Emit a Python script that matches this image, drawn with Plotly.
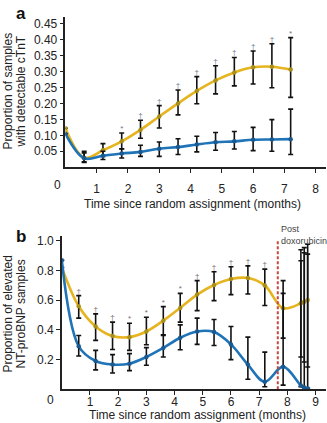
import plotly.graph_objects as go

# ---------------- Panel a data (cTnT) ----------------
months_a = [0, 0.6, 1.2, 1.8, 2.4, 3.0, 3.6, 4.2, 4.8, 5.4, 6.0, 6.6, 7.2]
ctnt_dox = [0.122, 0.030, 0.053, 0.081, 0.117, 0.159, 0.200, 0.239, 0.272, 0.297, 0.313, 0.315, 0.306]
ctnt_dox_hi = [0.122, 0.050, 0.074, 0.107, 0.147, 0.193, 0.242, 0.284, 0.318, 0.344, 0.364, 0.387, 0.406]
ctnt_dox_lo = [0.122, 0.017, 0.034, 0.057, 0.091, 0.123, 0.164, 0.199, 0.230, 0.255, 0.261, 0.249, 0.219]
ctnt_dz = [0.105, 0.028, 0.036, 0.043, 0.048, 0.058, 0.063, 0.071, 0.078, 0.081, 0.086, 0.087, 0.088]
ctnt_dz_hi = [0.105, 0.045, 0.050, 0.058, 0.069, 0.079, 0.089, 0.097, 0.109, 0.112, 0.125, 0.149, 0.182]
ctnt_dz_lo = [0.105, 0.015, 0.024, 0.029, 0.034, 0.034, 0.040, 0.048, 0.053, 0.057, 0.052, 0.050, 0.040]
sig_a = ["", "", "", "*", "†", "†", "†", "†", "†", "†", "†", "†", "*"]

# ---------------- Panel b data (NT-proBNP) ----------------
months_b = [0, 0.6, 1.2, 1.8, 2.4, 3.0, 3.6, 4.2, 4.8, 5.4, 6.0, 6.6, 7.2, 7.85, 8.48, 8.6, 8.72]
bnp_dox = [0.821, 0.559, 0.423, 0.358, 0.351, 0.389, 0.462, 0.548, 0.638, 0.703, 0.743, 0.750, 0.700,
           0.546, 0.579, 0.590, 0.602]
bnp_dox_hi = [0.821, 0.631, 0.508, 0.452, 0.445, 0.485, 0.557, 0.646, 0.732, 0.792, 0.826, 0.832, 0.810,
              0.732, 0.940, 0.955, 0.978]
bnp_dox_lo = [0.821, 0.479, 0.329, 0.268, 0.262, 0.300, 0.367, 0.452, 0.530, 0.597, 0.638, 0.642, 0.564,
              0.344, 0.217, 0.183, 0.150]
bnp_dz = [0.870, 0.289, 0.190, 0.166, 0.172, 0.217, 0.278, 0.347, 0.389, 0.385, 0.302, 0.166, 0.050,
          0.152, 0.025, 0.012, 0.005]
bnp_dz_hi = [0.870, 0.362, 0.262, 0.233, 0.240, 0.280, 0.362, 0.434, 0.479, 0.470, 0.423, 0.351, 0.250,
             0.646, 0.866, 0.920, 0.911]
bnp_dz_lo = [0.870, 0.224, 0.130, 0.109, 0.125, 0.161, 0.217, 0.266, 0.302, 0.295, 0.199, 0.067, 0.016,
             0.027, 0.016, 0.010, 0.005]
sig_b = ["", "†", "†", "†", "*", "*", "*", "*", "†", "†", "†", "†", "†", "", "", "", ""]
dox_end_month = 7.66

ticks_a_x = [1, 2, 3, 4, 5, 6, 7, 8]
ticks_a_y = [0.05, 0.10, 0.15, 0.20, 0.25, 0.30, 0.35, 0.40, 0.45]
ticks_b_x = [1, 2, 3, 4, 5, 6, 7, 8, 9]
ticks_b_y = [0.2, 0.4, 0.6, 0.8, 1.0]

YELLOW = "#E6B41E"
BLUE = "#1F73B7"
YELLOW_DOT = "#A8901E"
BLUE_DOT = "#1A5A92"
FONT = "Liberation Sans, Arial, sans-serif"
W, H = 327, 423


def px(x):
    return x / W


def py(y):
    return 1 - y / H


fig = go.Figure()


def add_series(xs, ys, hi, lo, line_col, dot_col, xa, ya):
    fig.add_trace(go.Scatter(x=xs, y=ys, mode="lines", xaxis=xa, yaxis=ya,
                             line=dict(color=line_col, width=2.6, shape="spline", smoothing=1.0),
                             hoverinfo="skip", showlegend=False))
    plus = [h - v for h, v in zip(hi, ys)]
    minus = [v - l for l, v in zip(lo, ys)]
    fig.add_trace(go.Scatter(x=xs, y=ys, mode="markers", xaxis=xa, yaxis=ya,
                             marker=dict(color=dot_col, size=4.5),
                             error_y=dict(type="data", array=plus, arrayminus=minus, color="#111",
                                          thickness=1.6, width=2.5),
                             showlegend=False))


def add_sig(xs, his, sig, xa, ya, color):
    sx = [x for x, s in zip(xs, sig) if s]
    sy = [h for h, s in zip(his, sig) if s]
    st = [s for s in sig if s]
    fig.add_trace(go.Scatter(x=sx, y=sy, text=st, mode="text", textposition="top center",
                             xaxis=xa, yaxis=ya, textfont=dict(size=8, color=color, family=FONT),
                             showlegend=False, hoverinfo="skip"))


add_series(months_a, ctnt_dox, ctnt_dox_hi, ctnt_dox_lo, YELLOW, YELLOW_DOT, "x", "y")
add_series(months_a, ctnt_dz, ctnt_dz_hi, ctnt_dz_lo, BLUE, BLUE_DOT, "x", "y")
add_sig(months_a, ctnt_dox_hi, sig_a, "x", "y", "#6a7a8c")

add_series(months_b, bnp_dox, bnp_dox_hi, bnp_dox_lo, YELLOW, YELLOW_DOT, "x2", "y2")
add_series(months_b, bnp_dz, bnp_dz_hi, bnp_dz_lo, BLUE, BLUE_DOT, "x2", "y2")
add_sig(months_b, bnp_dox_hi, sig_b, "x2", "y2", "#7a6a6a")

axis_common = dict(showline=True, linecolor="#222", linewidth=1.5, ticks="outside", ticklen=4,
                   tickwidth=1.2, tickcolor="#222", showgrid=False, zeroline=False,
                   tickfont=dict(size=12, color="#222", family=FONT))

fig.update_layout(
    width=W, height=H, margin=dict(l=0, r=0, t=0, b=0),
    paper_bgcolor="white", plot_bgcolor="white",
    font=dict(family=FONT, color="#222"),
    xaxis=dict(domain=[px(65.4), px(325.7)], range=[0, 8.32], tickvals=ticks_a_x,
               anchor="y", ticklabelstandoff=6, **axis_common),
    yaxis=dict(domain=[py(166), py(15)], range=[0, 0.471], tickvals=ticks_a_y,
               tickformat=".2f", anchor="x", **axis_common),
    xaxis2=dict(domain=[px(61.8), px(325.7)], range=[0, 9.36], tickvals=ticks_b_x,
                anchor="y2", ticklabelstandoff=-3, **axis_common),
    yaxis2=dict(domain=[py(389), py(235)], range=[0, 1.034], tickvals=ticks_b_y,
                tickformat=".1f", anchor="x2", **axis_common),
)

fig.add_shape(type="line", xref="x2", yref="y2", x0=dox_end_month, x1=dox_end_month, y0=0, y1=1.0,
              line=dict(color="#C8463C", width=2, dash="3px,2px"))

ann = []


def text(x, y, s, size=12, angle=0, bold=False, xanchor="center", align="center", color="#222"):
    ann.append(dict(x=px(x), y=py(y), xref="paper", yref="paper", text=("<b>%s</b>" % s) if bold else s,
                    showarrow=False, textangle=angle, xanchor=xanchor, yanchor="middle", align=align,
                    font=dict(size=size, family=FONT, color=color)))


text(21, 12, "a", size=17, bold=True, color="#111")
text(21, 236, "b", size=17, bold=True, color="#111")
text(8, 90, "Proportion of samples", angle=-90)
text(21, 90, "with detectable cTnT", angle=-90)
text(8, 314, "Proportion of elevated", angle=-90)
text(21, 314, "NT-proBNP samples", angle=-90)
text(192.5, 203, "Time since random assignment (months)")
text(197.7, 415, "Time since random assignment (months)")
text(57, 184, "0")
text(50, 400, "0")
text(279, 234, "Post<br>doxorubicin", size=9, xanchor="left", align="left", color="#444")
fig.update_layout(annotations=ann)

fig.write_html("out.html")
